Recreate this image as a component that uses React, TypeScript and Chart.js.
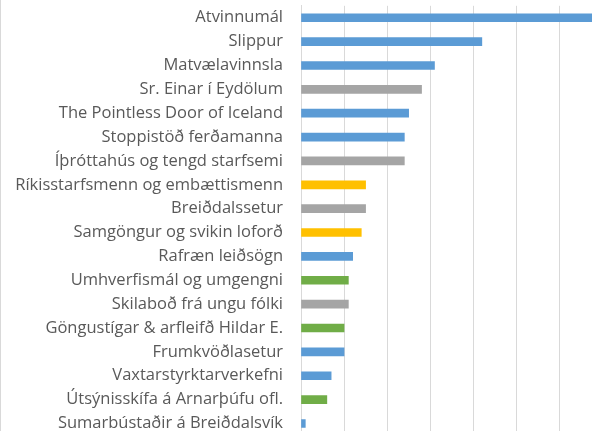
import React, { useEffect, useRef } from "react";
import { Chart, registerables } from "chart.js";

Chart.register(...registerables);

const categories = [
  "Atvinnumál",
  "Slippur",
  "Matvælavinnsla",
  "Sr. Einar í Eydölum",
  "The Pointless Door of Iceland",
  "Stoppistöð ferðamanna",
  "Íþróttahús og tengd starfsemi",
  "Ríkisstarfsmenn og embættismenn",
  "Breiðdalssetur",
  "Samgöngur og svikin loforð",
  "Rafræn leiðsögn",
  "Umhverfismál og umgengni",
  "Skilaboð frá ungu fólki",
  "Göngustígar & arfleifð Hildar E.",
  "Frumkvöðlasetur",
  "Vaxtarstyrktarverkefni",
  "Útsýnisskífa á Arnarþúfu ofl.",
  "Sumarbústaðir á Breiðdalsvík",
];

const values = [70, 42, 31, 28, 25, 24, 24, 15, 15, 14, 12, 11, 11, 10, 10, 7, 6, 1];

// theme group of each category
const groups = [
  "economy", "economy", "economy", "community", "economy", "economy",
  "community", "state", "community", "state", "economy", "environment",
  "community", "environment", "economy", "economy", "environment", "economy",
];

const groupColors: Record<string, string> = {
  economy: "#5B9BD5",
  community: "#A5A5A5",
  state: "#FFC000",
  environment: "#70AD47",
};

const xMax = 70;
const xStep = 10;

export default function App() {
  const ref = useRef<HTMLCanvasElement>(null);
  useEffect(() => {
    if (!ref.current) return;
    const chart = new Chart(ref.current, {
      type: "bar",
      data: {
        labels: categories,
        datasets: [
          {
            data: values,
            backgroundColor: groups.map((g) => groupColors[g]),
            borderWidth: 0,
            barThickness: 8,
          },
        ],
      },
      options: {
        indexAxis: "y",
        animation: false,
        responsive: false,
        maintainAspectRatio: false,
        layout: { padding: { top: 5.8, bottom: 0.6, right: 1.6, left: 0 } },
        plugins: { legend: { display: false }, tooltip: { enabled: false } },
        scales: {
          x: {
            min: 0,
            max: xMax,
            ticks: { display: false, stepSize: xStep, includeBounds: false },
            grid: { color: "#d9d9d9", lineWidth: 1, drawTicks: false },
            border: { display: false },
            afterFit: (s: any) => {
              s.height = 0;
              s.paddingLeft = 0;
              s.paddingRight = 0;
            },
          },
          y: {
            afterFit: (s: any) => {
              s.width = 301;
              s.paddingTop = 0;
              s.paddingBottom = 0;
            },
            ticks: {
              color: "#595959",
              font: { family: "Open Sans", size: 16.5 },
              padding: 18,
            },
            grid: { display: false, drawTicks: false },
            border: { display: true, color: "#d9d9d9", width: 1 },
          },
        },
      },
    });
    return () => chart.destroy();
  }, []);
  return (
    <div
      style={{
        position: "fixed",
        left: 0,
        top: 0,
        width: 592,
        height: 431,
        overflow: "hidden",
        background: "#ffffff",
      }}
    >
      <canvas ref={ref} width={604} height={436} style={{ display: "block" }} />
      <div
        style={{
          position: "absolute",
          left: 0,
          top: 0,
          width: 1,
          height: 431,
          background: "#d9d9d9",
        }}
      />
    </div>
  );
}
